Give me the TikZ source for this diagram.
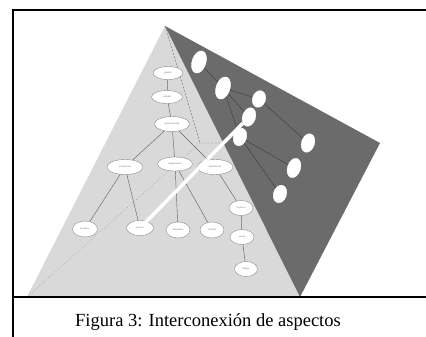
\documentclass[tikz,border=0pt]{standalone}
\usepackage{fontspec}
\setmainfont{Liberation Serif}
\usetikzlibrary{shapes.geometric}
\definecolor{lightface}{RGB}{217,217,217}
\definecolor{darkface}{RGB}{107,107,107}
\tikzset{
  lnode/.style={ellipse, draw=black!45, fill=white, line width=0.4pt, inner sep=0pt,
    font=\fontsize{2.6}{3}\selectfont, text=black!55},
  dnode/.style={ellipse, draw=white, fill=white, inner sep=0pt, minimum width=13pt, rotate=-18},
  ledge/.style={draw=black!60, line width=0.45pt},
  dedge/.style={draw=black!75, line width=0.45pt},
  frameline/.style={line width=1.6pt, black},
}
\begin{document}
\begin{tikzpicture}[x=1pt,y=-1pt]
\useasboundingbox (0,0) rectangle (426,337);
\fill[white] (0,0) rectangle (426,337);
% pyramid vertices
\coordinate (apex) at (165,26);
\coordinate (bl) at (27,297);
\coordinate (br) at (300,297);
\coordinate (rt) at (380,143);
\coordinate (back) at (200,143);
\fill[lightface] (apex) -- (bl) -- (br) -- cycle;
\fill[darkface] (apex) -- (rt) -- (br) -- cycle;
% hidden edges
\draw[black!55, dash pattern=on 2pt off 1.5pt, line width=0.45pt] (apex) -- (back) -- (rt);
\draw[black!55, dotted, line width=0.4pt] (bl) -- (back);
% light face tree
\node[lnode, minimum width=30pt, minimum height=13pt] (g) at (168,73) {gestión};
\node[lnode, minimum width=31pt, minimum height=13pt] (ent) at (167,97) {entidad};
\node[lnode, minimum width=35pt, minimum height=15pt] (prod) at (172,124) {productividad};
\node[lnode, minimum width=36pt, minimum height=15pt] (l1) at (125,167) {producción};
\node[lnode, minimum width=35pt, minimum height=14pt] (l2) at (175,164) {organización};
\node[lnode, minimum width=36pt, minimum height=15pt] (l3) at (215,167) {distribución};
\node[lnode, minimum width=25pt, minimum height=16pt] (c1) at (85,229) {producto};
\node[lnode, minimum width=27pt, minimum height=15pt] (c2) at (140,228) {proceso};
\node[lnode, minimum width=24pt, minimum height=16pt] (c3) at (178,230) {dimensión};
\node[lnode, minimum width=24pt, minimum height=16pt] (c4) at (212,230) {calidad};
\node[lnode, minimum width=24pt, minimum height=15pt] (r1) at (241,208) {logística};
\node[lnode, minimum width=24pt, minimum height=15pt] (r2) at (242,237) {costes};
\node[lnode, minimum width=23pt, minimum height=15pt] (r3) at (246,269) {tiempo};
\draw[ledge] (g) -- (ent);
\draw[ledge] (ent) -- (prod);
\draw[ledge] (prod) -- (l1);
\draw[ledge] (prod) -- (l2);
\draw[ledge] (prod) -- (l3);
\draw[ledge] (l1) -- (c1);
\draw[ledge] (l1) -- (c2);
\draw[ledge] (l2) -- (c3);
\draw[ledge] (l2) -- (c4);
\draw[ledge] (l3) -- (r1);
\draw[ledge] (r1) -- (r2);
\draw[ledge] (r2) -- (r3);
% dark face tree
\node[dnode, minimum height=23pt, minimum width=14pt] (A) at (199,62) {};
\node[dnode, minimum height=23pt, minimum width=14pt] (B) at (223,88) {};
\node[dnode, minimum height=17pt] (C) at (259,99) {};
\node[dnode, minimum height=19pt] (D) at (249,117) {};
\node[dnode, minimum height=18pt] (E) at (240,137) {};
\node[dnode, minimum height=19pt] (F) at (308,143) {};
\node[dnode, minimum height=20pt] (G) at (294,168) {};
\node[dnode, minimum height=18pt] (H) at (280,194) {};
\draw[dedge] (A) -- (B);
\draw[dedge] (B) -- (C);
\draw[dedge] (B) -- (D);
\draw[dedge] (B) -- (E);
\draw[dedge] (C) -- (F);
\draw[dedge] (E) -- (G);
\draw[dedge] (E) -- (H);
% interconnection
\draw[white, line width=3.5pt, shorten <=-2pt] (c2) -- (D);
% frame
\draw[frameline] (13,337) -- (13,10) -- (426,10);
\draw[frameline] (13,297) -- (426,297);
\node[font=\fontsize{18.5}{21}\selectfont] (cap) at (208,322) {Figura 3: Interconexión de aspectos};
\end{tikzpicture}
\end{document}
